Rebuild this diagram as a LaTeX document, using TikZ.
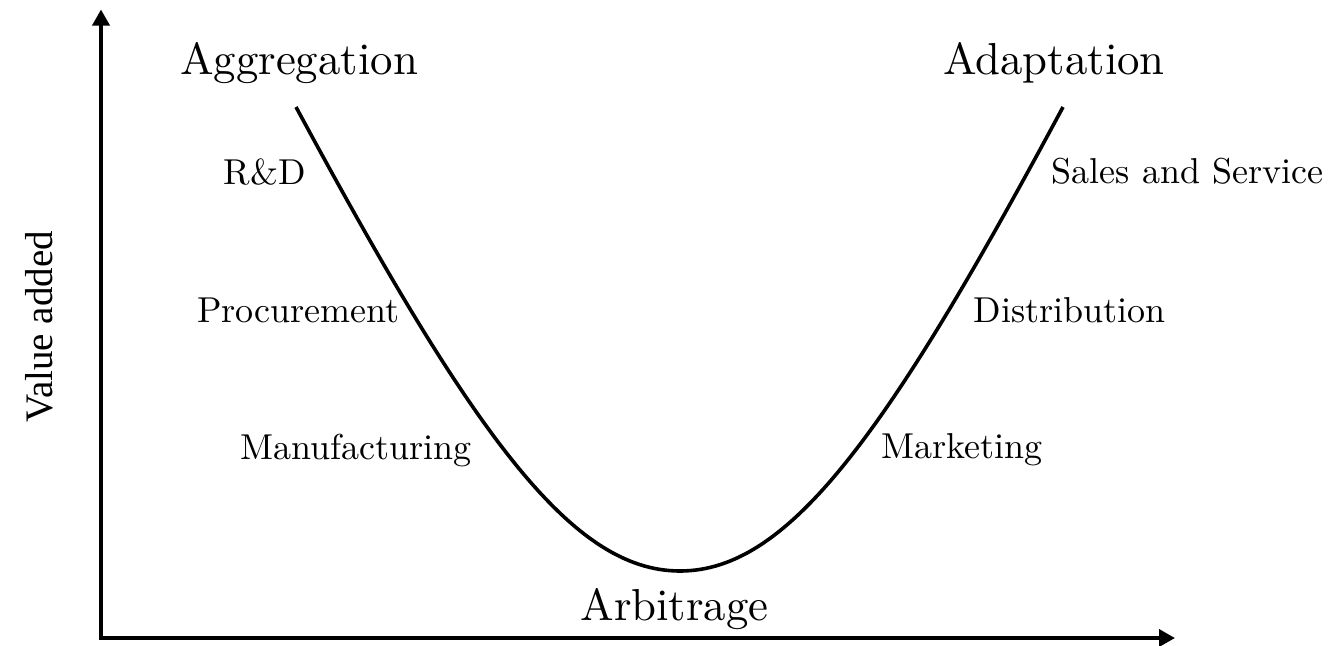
\documentclass[tikz,border=0pt]{standalone}
\usepackage{fontspec}
\newfontfamily\axisfont{Liberation Serif}
\newfontfamily\labelfont{lmroman10-regular.otf}
\usetikzlibrary{arrows.meta}
\begin{document}
\begin{tikzpicture}[x=1pt,y=-1pt,
  axisline/.style={line width=3.6pt,-{Triangle[width=17pt,length=16pt]}},
  curveline/.style={line width=3.6pt},
  biglabel/.style={anchor=base,inner sep=0pt,font=\labelfont\fontsize{44.8}{50}\selectfont},
  smalllabel/.style={anchor=base,inner sep=0pt,font=\labelfont\fontsize{36}{42}\selectfont},
  axislabel/.style={inner sep=0pt,rotate=90,font=\axisfont\fontsize{39}{44}\selectfont}]
\useasboundingbox[fill=white] (0,0) rectangle (1335,645);
\coordinate (ytip) at (101,9.5);
\coordinate (xtip) at (1175,638);
\coordinate (xstart) at (99.2,638);
\coordinate (ystart) at (101,639.8);
\draw[axisline] (ystart) -- (ytip);
\draw[axisline] (xstart) -- (xtip);
\coordinate (ctopleft) at (296,107);
\coordinate (cbottom) at (680,571);
\coordinate (ctopright) at (1063,107);
\draw[curveline] (ctopleft) .. controls (474,437) and (572,571) .. (cbottom)
  .. controls (788,571) and (886,437) .. (ctopright);
\node[biglabel] (aggregation) at (299,74) {Aggregation};
\node[biglabel] (adaptation) at (1054,74) {Adaptation};
\node[biglabel] (arbitrage) at (674.5,620) {Arbitrage};
\node[smalllabel] (rd) at (265,184) {R\&D};
\node[smalllabel] (procurement) at (298.5,322) {Procurement};
\node[smalllabel] (manufacturing) at (356,459) {Manufacturing};
\node[smalllabel] (sales) at (1187.5,183) {Sales and Service};
\node[smalllabel] (distribution) at (1069.5,322) {Distribution};
\node[smalllabel] (marketing) at (962,458) {Marketing};
\node[axislabel] (valueadded) at (39,327) {Value added};
\end{tikzpicture}
\end{document}
